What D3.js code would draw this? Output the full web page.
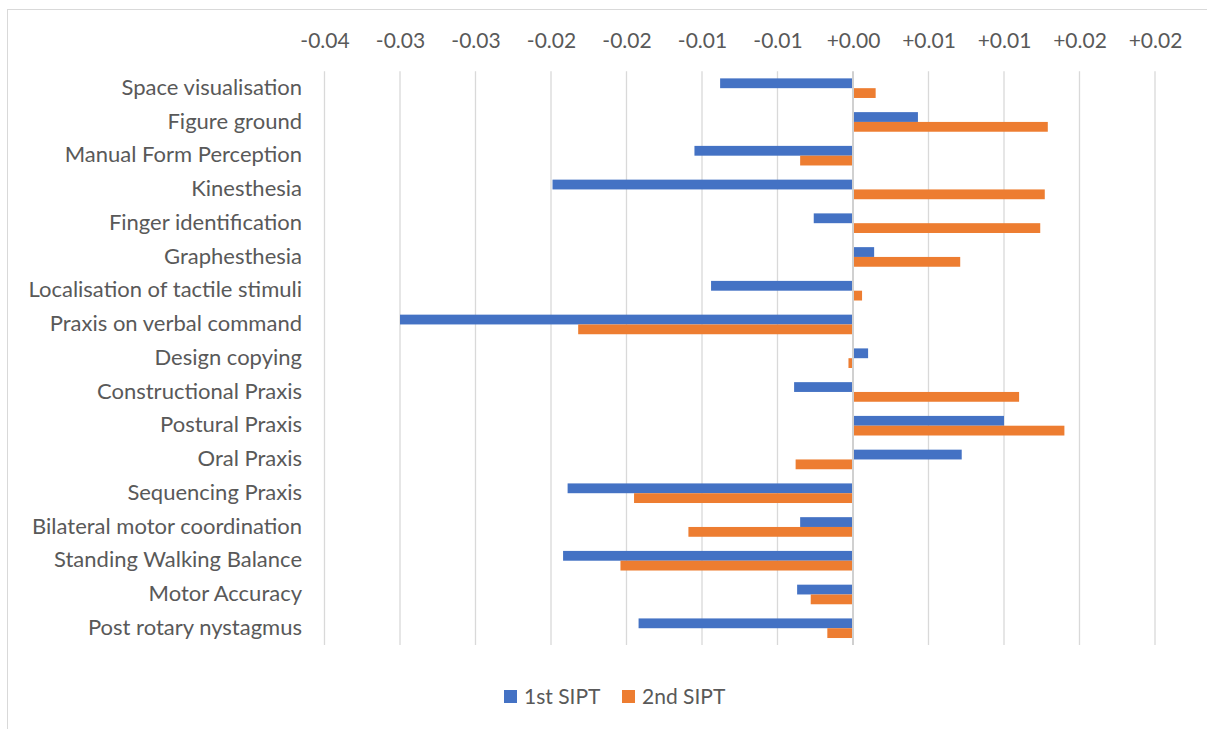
<!DOCTYPE html>
<html>
<head>
<meta charset="utf-8">
<script src="https://cdn.jsdelivr.net/npm/d3@7"></script>
<style>
  html, body { margin: 0; padding: 0; background: #fff; }
  svg { display: block; }
  text { font-family: Lato, "Open Sans", sans-serif; fill: #595959; }
</style>
</head>
<body>
<svg id="chart" width="1207" height="729"></svg>
<script>
// SIPT subtest change scores, first and second assessment
const categories = [
  "Space visualisation",
  "Figure ground",
  "Manual Form Perception",
  "Kinesthesia",
  "Finger identification",
  "Graphesthesia",
  "Localisation of tactile stimuli",
  "Praxis on verbal command",
  "Design copying",
  "Constructional Praxis",
  "Postural Praxis",
  "Oral Praxis",
  "Sequencing Praxis",
  "Bilateral motor coordination",
  "Standing Walking Balance",
  "Motor Accuracy",
  "Post rotary nystagmus"
];

const firstSIPT = [
  -0.0088, 0.0043, -0.0105, -0.0199, -0.0026, 0.0014, -0.0094, -0.0300, 0.0010,
  -0.0039, 0.0100, 0.0072, -0.0189, -0.0035, -0.0192, -0.0037, -0.0142
];

const secondSIPT = [
  0.0015, 0.0129, -0.0035, 0.0127, 0.0124, 0.0071, 0.0006, -0.0182, -0.0003,
  0.0110, 0.0140, -0.0038, -0.0145, -0.0109, -0.0154, -0.0028, -0.0017
];

const seriesNames = ["1st SIPT", "2nd SIPT"];
const seriesColors = ["#4472C4", "#ED7D31"];

const tickValues = [-0.035, -0.03, -0.025, -0.02, -0.015, -0.01, -0.005, 0, 0.005, 0.01, 0.015, 0.02];
const tickLabels = ["-0.04", "-0.03", "-0.03", "-0.02", "-0.02", "-0.01", "-0.01", "+0.00", "+0.01", "+0.01", "+0.02", "+0.02"];

const svg = d3.select("#chart");
const W = 1207, H = 729;

// outer chart frame (runs off the right and bottom edges)
svg.append("rect")
  .attr("x", 7.5).attr("y", 9.5)
  .attr("width", W + 20).attr("height", H + 20)
  .attr("fill", "#fff").attr("stroke", "#d9d9d9").attr("stroke-width", 1);

const plot = { left: 324.5, right: 1155, top: 71.3, bottom: 645.1 };

const x = d3.scaleLinear()
  .domain([tickValues[0], tickValues[tickValues.length - 1]])
  .range([plot.left, plot.right]);

const y = d3.scaleBand()
  .domain(categories)
  .range([plot.top, plot.bottom])
  .paddingInner(0).paddingOuter(0);

const ySub = d3.scaleBand()
  .domain(seriesNames)
  .range([0, y.bandwidth()])
  .paddingInner(0)
  .paddingOuter(0.722);

// vertical gridlines
svg.append("g")
  .selectAll("line")
  .data(tickValues.filter(v => v !== 0))
  .join("line")
  .attr("x1", d => x(d)).attr("x2", d => x(d))
  .attr("y1", plot.top).attr("y2", plot.bottom)
  .attr("stroke", "#d9d9d9").attr("stroke-width", 1.3);

// tick labels along the top
const xAxis = d3.axisTop(x)
  .tickValues(tickValues)
  .tickFormat((d, i) => tickLabels[i])
  .tickSize(0)
  .tickPadding(0);

const gx = svg.append("g")
  .attr("transform", "translate(0,48)")
  .call(xAxis);
gx.select(".domain").remove();
gx.selectAll("text")
  .attr("font-size", 21)
  .style("font-family", "Lato, 'Open Sans', sans-serif")
  .attr("fill", "#595959")
  .attr("dy", 0);

// bars
const rows = categories.map((c, i) => ({ c, vals: [firstSIPT[i], secondSIPT[i]] }));

const gBars = svg.append("g");
seriesNames.forEach((s, si) => {
  gBars.append("g")
    .selectAll("rect")
    .data(rows)
    .join("rect")
    .attr("x", d => Math.min(x(0), x(d.vals[si])))
    .attr("width", d => Math.abs(x(d.vals[si]) - x(0)))
    .attr("y", d => y(d.c) + ySub(s))
    .attr("height", ySub.bandwidth())
    .attr("fill", seriesColors[si]);
});

// zero axis line
svg.append("line")
  .attr("x1", x(0)).attr("x2", x(0))
  .attr("y1", plot.top).attr("y2", plot.bottom)
  .attr("stroke", "#d0d0d0").attr("stroke-width", 2);

// category labels
const yAxis = d3.axisLeft(y).tickSize(0).tickPadding(0);
const gy = svg.append("g")
  .attr("transform", "translate(302,0)")
  .call(yAxis);
gy.select(".domain").remove();
gy.selectAll("text")
  .attr("font-size", 22)
  .style("font-family", "Lato, 'Open Sans', sans-serif")
  .attr("fill", "#595959")
  .attr("dy", "0.3em");

// legend
const legend = svg.append("g").attr("transform", "translate(504,690)");
const legendX = [0, 118];
seriesNames.forEach((s, i) => {
  const g = legend.append("g").attr("transform", `translate(${legendX[i]},0)`);
  g.append("rect").attr("width", 13).attr("height", 13).attr("fill", seriesColors[i]);
  g.append("text")
    .attr("x", 20).attr("y", 13.5)
    .attr("font-size", 21)
    .text(s);
});
</script>
</body>
</html>
